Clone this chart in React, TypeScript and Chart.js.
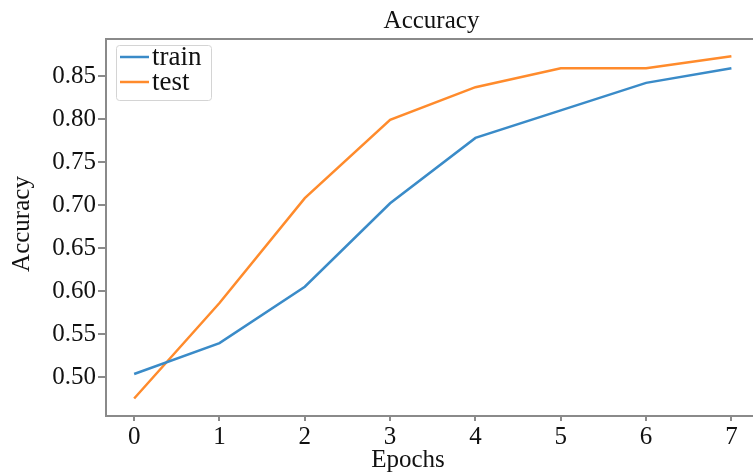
import React, { useEffect, useRef } from "react";
import { Chart, registerables } from "chart.js";

Chart.register(...registerables);

const epochs = [0, 1, 2, 3, 4, 5, 6, 7];
const trainAcc = [0.5035, 0.5395, 0.605, 0.702, 0.778, 0.81, 0.842, 0.859];
const testAcc = [0.475, 0.586, 0.708, 0.799, 0.837, 0.859, 0.859, 0.873];
const yTicks = [0.5, 0.55, 0.6, 0.65, 0.7, 0.75, 0.8, 0.85];
const xTicks = [0, 1, 2, 3, 4, 5, 6, 7];
const seriesLabels = ["train", "test"];
const seriesColors = ["#3a8bc8", "#ff8b2c"];
const titleText = "Accuracy";
const xLabel = "Epochs";
const yLabel = "Accuracy";

const FONT = "'Liberation Serif', 'Times New Roman', serif";
const AXIS = "#8a8a8a";

const decorPlugin = {
  id: "decor",
  afterDraw(chart: any) {
    const ctx = chart.ctx;
    const a = chart.chartArea;
    ctx.save();
    // top spine
    ctx.strokeStyle = AXIS;
    ctx.lineWidth = 2;
    ctx.beginPath();
    ctx.moveTo(a.left - 1, a.top);
    ctx.lineTo(chart.width, a.top);
    ctx.stroke();
    // title
    ctx.fillStyle = "#111";
    ctx.font = `25px ${FONT}`;
    ctx.textAlign = "center";
    ctx.textBaseline = "alphabetic";
    ctx.fillText(titleText, (a.left + a.right) / 2, 28);
    // x label
    ctx.fillText(xLabel, 408, 467);
    // y label
    ctx.save();
    ctx.translate(29, 224);
    ctx.rotate(-Math.PI / 2);
    ctx.textBaseline = "alphabetic";
    ctx.fillText(yLabel, 0, 0);
    ctx.restore();
    // legend
    const bx = a.left + 10, by = a.top + 6, bw = 95, bh = 55;
    ctx.fillStyle = "rgba(255,255,255,0.8)";
    ctx.strokeStyle = "#d4d4d4";
    ctx.lineWidth = 1;
    ctx.beginPath();
    (ctx as any).roundRect(bx + 0.5, by + 0.5, bw, bh, 3);
    ctx.fill();
    ctx.stroke();
    chart.data.datasets.forEach((ds: any, i: number) => {
      const ly = by + 12 + i * 25;
      ctx.strokeStyle = ds.borderColor;
      ctx.lineWidth = 2.5;
      ctx.beginPath();
      ctx.moveTo(bx + 4, ly);
      ctx.lineTo(bx + 33, ly);
      ctx.stroke();
      ctx.fillStyle = "#111";
      ctx.font = `27px ${FONT}`;
      ctx.textAlign = "left";
      ctx.textBaseline = "middle";
      ctx.fillText(ds.label, bx + 36, ly + 1);
    });
    ctx.restore();
  },
};

export default function App() {
  const ref = useRef<HTMLCanvasElement | null>(null);
  useEffect(() => {
    document.body.style.margin = "0";
    const canvas = ref.current!;
    const chart = new Chart(canvas, {
      type: "line",
      data: {
        datasets: [trainAcc, testAcc].map((vals, i) => ({
          label: seriesLabels[i],
          data: epochs.map((e, j) => ({ x: e, y: vals[j] })),
          borderColor: seriesColors[i],
          backgroundColor: seriesColors[i],
          borderWidth: 2.5,
          pointRadius: 0,
          tension: 0,
          fill: false,
        })),
      },
      options: {
        responsive: false,
        animation: false,
        layout: { padding: { left: 0, top: 39, right: 3, bottom: 0 } },
        plugins: {
          legend: { display: false },
          title: { display: false },
          tooltip: { enabled: false },
        },
        scales: {
          x: {
            type: "linear",
            min: -0.33,
            max: 7.3,
            afterBuildTicks: (s: any) => {
              s.ticks = xTicks.map((v) => ({ value: v }));
            },
            afterFit: (s: any) => {
              s.height = 57;
            },
            grid: {
              drawOnChartArea: false,
              drawTicks: true,
              tickLength: 5,
              color: AXIS,
              lineWidth: 2,
            },
            border: { display: true, color: AXIS, width: 2 },
            ticks: {
              color: "#111",
              font: { family: FONT, size: 25 },
              padding: 1,
              maxRotation: 0,
              autoSkip: false,
              callback: (v: any) => String(v),
            },
          },
          y: {
            type: "linear",
            min: 0.4547,
            max: 0.893,
            afterBuildTicks: (s: any) => {
              s.ticks = yTicks.map((v) => ({ value: v }));
            },
            afterFit: (s: any) => {
              s.width = 106;
            },
            grid: {
              drawOnChartArea: false,
              drawTicks: true,
              tickLength: 8,
              color: AXIS,
              lineWidth: 2,
            },
            border: { display: true, color: AXIS, width: 2 },
            ticks: {
              color: "#111",
              font: { family: FONT, size: 25 },
              padding: 2,
              autoSkip: false,
              callback: (v: any) => Number(v).toFixed(2),
            },
          },
        },
      },
      plugins: [decorPlugin],
    });
    return () => chart.destroy();
  }, []);
  return (
    <div style={{ width: 753, height: 473, overflow: "hidden", background: "#fff" }}>
      <canvas ref={ref} width={760} height={473} style={{ display: "block" }} />
    </div>
  );
}
